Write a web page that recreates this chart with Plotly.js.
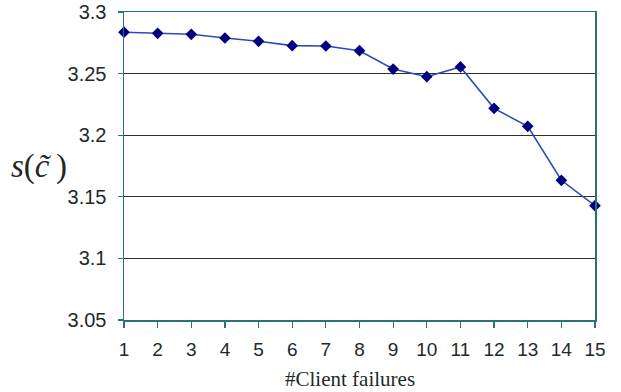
<!DOCTYPE html>
<html>
<head>
<meta charset="utf-8">
<script src="https://cdn.plot.ly/plotly-3.0.1.min.js"></script>
<style>html,body{margin:0;padding:0;background:#fff;}#chart{width:621px;height:392px;}</style>
</head>
<body>
<div id="chart"></div>
<script>
const failures = [1, 2, 3, 4, 5, 6, 7, 8, 9, 10, 11, 12, 13, 14, 15];
const sValues = [3.2836, 3.2827, 3.2819, 3.2789, 3.2762, 3.2727, 3.2724, 3.2686, 3.2537, 3.2475, 3.2554, 3.2218, 3.2072, 3.1634, 3.1428];
const yTicks = [3.05, 3.1, 3.15, 3.2, 3.25, 3.3];
const yTickText = ['3.05', '3.1', '3.15', '3.2', '3.25', '3.3'];
const xTitle = '#Client failures';
const yTitle = '<i>s</i>(<i>c\u0303</i>\u2009)';

const trace = {
  x: failures,
  y: sValues,
  type: 'scatter',
  mode: 'lines+markers',
  line: {color: '#2a4cb8', width: 1.6},
  marker: {symbol: 'diamond', size: 9, color: '#000080'},
  cliponaxis: false,
  hoverinfo: 'skip'
};

const axisColor = '#2a7373';
const textColor = '#1e2a2a';
const sans = "'Liberation Sans', Arial, sans-serif";
const serif = "'Liberation Serif', 'Times New Roman', serif";
const layout = {
  width: 621,
  height: 392,
  margin: {l: 124, r: 26, t: 12, b: 72},
  paper_bgcolor: '#ffffff',
  plot_bgcolor: '#ffffff',
  showlegend: false,
  font: {family: sans, size: 19, color: textColor},
  xaxis: {
    range: [1, 15],
    tickvals: failures,
    ticktext: failures.map(String),
    showgrid: false,
    zeroline: false,
    showline: true,
    linecolor: axisColor,
    linewidth: 1.5,
    mirror: true,
    ticks: 'outside',
    ticklen: 6,
    tickcolor: axisColor,
    tickwidth: 1.2,
    ticklabelstandoff: 6,
    tickfont: {family: sans, size: 19, color: textColor}
  },
  yaxis: {
    range: [3.05, 3.3],
    tickvals: yTicks,
    ticktext: yTickText,
    showgrid: true,
    gridcolor: '#2e2e2e',
    gridwidth: 1.2,
    zeroline: false,
    showline: true,
    linecolor: axisColor,
    linewidth: 1.5,
    mirror: true,
    ticks: 'outside',
    ticklen: 5,
    tickcolor: axisColor,
    tickwidth: 1.2,
    ticklabelstandoff: 7,
    tickfont: {family: sans, size: 20, color: textColor}
  },
  annotations: [{
    xref: 'paper', yref: 'paper',
    x: 0, y: 0.5,
    xshift: -85,
    xanchor: 'center', yanchor: 'middle',
    showarrow: false,
    text: yTitle,
    font: {family: serif, size: 33, color: textColor}
  }, {
    xref: 'paper', yref: 'paper',
    x: 0.5, y: 0,
    xshift: -10, yshift: -59,
    xanchor: 'center', yanchor: 'middle',
    showarrow: false,
    text: xTitle,
    font: {family: serif, size: 21, color: textColor}
  }]
};

Plotly.newPlot('chart', [trace], layout, {displayModeBar: false, staticPlot: true});
</script>
</body>
</html>
